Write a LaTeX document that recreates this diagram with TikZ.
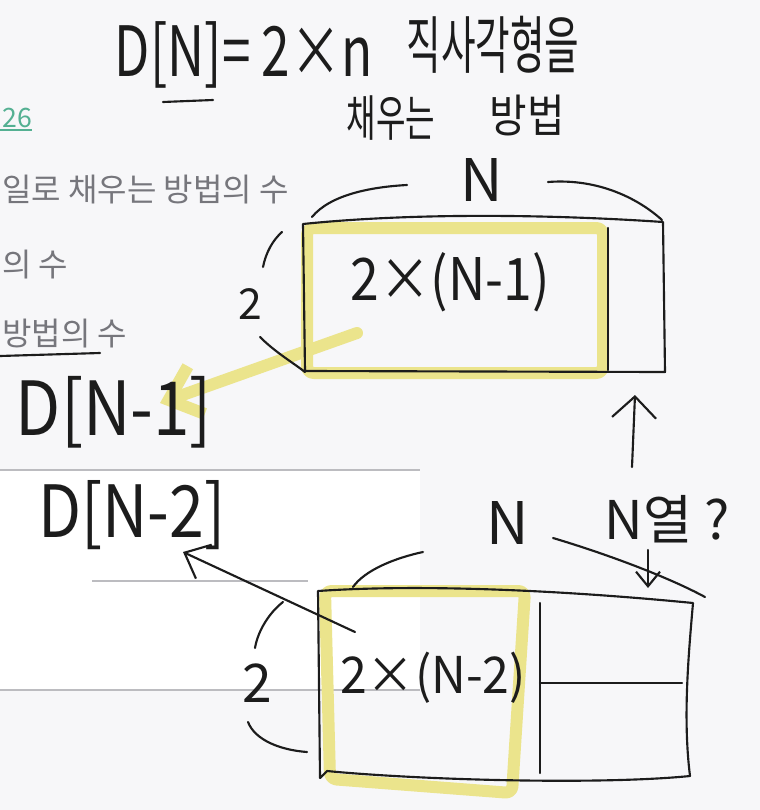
\documentclass[tikz,border=0pt]{standalone}
\usepackage{fontspec}
\setmainfont{Noto Sans CJK KR}
\usetikzlibrary{arrows.meta}

\definecolor{paper}{RGB}{247,247,249}
\definecolor{rulegray}{RGB}{188,188,192}
\definecolor{shotgray}{RGB}{118,118,124}
\definecolor{linkteal}{RGB}{84,176,146}
\definecolor{hlyellow}{RGB}{235,228,140}
\definecolor{ink}{RGB}{28,28,28}

\begin{document}
\begin{tikzpicture}[
  x=0.75pt, y=-0.75pt,
  pen/.style={draw=ink,line width=1.6pt,line cap=round,line join=round},
  highlight/.style={draw=hlyellow,line width=9pt,line cap=round,line join=round,rounded corners=5pt},
  shot/.style={inner sep=0pt,anchor=west,text=shotgray,font=\fontsize{24}{28}\selectfont},
  hand/.style={inner sep=0pt,text=ink},
  every node/.style={inner sep=0pt}
]
  \useasboundingbox (0,0) rectangle (760,810);
  \fill[paper] (0,0) rectangle (760,810);
  \fill[white] (0,470) rectangle (420,690);
  \draw[rulegray,line width=.8pt] (0,470) -- (420,470) (0,690) -- (420,690) (92,581) -- (308,581);

  % screenshot text behind the sketch
  \node[shot,text=linkteal,font=\fontsize{20}{24}\selectfont] (link) at (2,118) {26};
  \draw[linkteal,line width=.8pt] (0,130) -- (link.east |- 0,130);
  \node[shot] (rowa) at (2,190) {일로 채우는 방법의 수};
  \node[shot] (rowb) at (2,265) {의 수};
  \node[shot] (rowc) at (2,334) {방법의 수};
  \draw[pen] (0,356) -- (100,353);

  \coordinate (tipa) at (160,403);
  \coordinate (taila) at (357,333);
  \coordinate (tipb) at (183,552);
  \coordinate (tailb) at (355,632);
  \coordinate (upfrom) at (632,467);
  \coordinate (upto) at (635,395);
  \coordinate (downfrom) at (648,550);
  \coordinate (downto) at (648,588);

  % marker strokes
  \draw[highlight] (307,228) -- (603,228) -- (603,373) -- (307,373) -- cycle;
  \draw[highlight] (325,591) -- (525,591) -- (512,793) -- (330,779) -- cycle;
  \draw[draw=hlyellow,line width=9pt,line cap=round,-{Straight Barb[length=22pt,width=38pt]}] (taila) -- (tipa);

  % title
  \node[hand,font=\fontsize{52}{58}\selectfont,xscale=.74] (title) at (244,55) {D[N]= 2×n};
  \draw[pen] (163,102) -- (213,100);
  \node[hand,font=\fontsize{47}{52}\selectfont,xscale=.6] (rect) at (493,45) {직사각형을};
  \node[hand,font=\fontsize{37}{42}\selectfont,xscale=.65] (fill) at (391,118) {채우는};
  \node[hand,font=\fontsize{34}{40}\selectfont,xscale=.9] (ways) at (527,115) {방법};

  % 2 x N board
  \draw[pen] (303,224) .. controls (420,212) and (560,215) .. (663,222)
    -- (665,372) -- (305,371) -- cycle;
  \draw[pen] (608,228) -- (608,370);
  \node[hand,font=\fontsize{44}{50}\selectfont] (ntop) at (482,180) {N};
  \draw[pen] (312,217) .. controls (330,195) and (370,187) .. (407,185);
  \draw[pen] (548,182) .. controls (600,178) and (640,200) .. (662,220);
  \node[hand,font=\fontsize{32}{36}\selectfont] (htop) at (250,304) {2};
  \draw[pen] (263,267) .. controls (266,252) and (273,240) .. (282,232);
  \draw[pen] (260,337) .. controls (275,352) and (292,362) .. (305,372);
  \node[hand,font=\fontsize{44}{50}\selectfont,xscale=.88] (resta) at (450,282) {2×(N-1)};
  \node[hand,font=\fontsize{56}{62}\selectfont,xscale=.88] (dnone) at (114,412) {D[N-1]};

  \draw[pen,-{Straight Barb[length=16pt,width=33pt]}] (upfrom) -- (upto);

  % board with the last 2x2 block
  \node[hand,font=\fontsize{54}{60}\selectfont,xscale=.87] (dntwo) at (132,515) {D[N-2]};
  \draw[pen,-{Straight Barb[length=16pt,width=28pt]}] (tailb) -- (tipb);
  \node[hand,font=\fontsize{44}{50}\selectfont] (nbot) at (508,523) {N};
  \node[hand,font=\fontsize{40}{46}\selectfont] (col) at (667,519) {N열 ?};
  \draw[pen,-{Straight Barb[length=11pt,width=18pt]}] (downfrom) -- (downto);
  \draw[pen] (353,587) .. controls (365,570) and (395,558) .. (423,552);
  \draw[pen] (553,538) .. controls (610,555) and (670,578) .. (705,597);
  \draw[pen] (318,591) .. controls (420,584) and (560,590) .. (693,603)
    .. controls (688,660) and (683,720) .. (690,776)
    .. controls (600,785) and (420,780) .. (327,771) -- (320,778) -- cycle;
  \draw[pen] (540,603) -- (540,773);
  \draw[pen] (540,683) -- (682,683);
  \node[hand,font=\fontsize{40}{46}\selectfont] (hbot) at (257,683) {2};
  \draw[pen] (255,648) .. controls (258,630) and (270,612) .. (283,602);
  \draw[pen] (248,722) .. controls (255,740) and (280,750) .. (307,752);
  \node[hand,font=\fontsize{38}{44}\selectfont,xscale=.95] (restb) at (433,678) {2×(N-2)};
\end{tikzpicture}
\end{document}
